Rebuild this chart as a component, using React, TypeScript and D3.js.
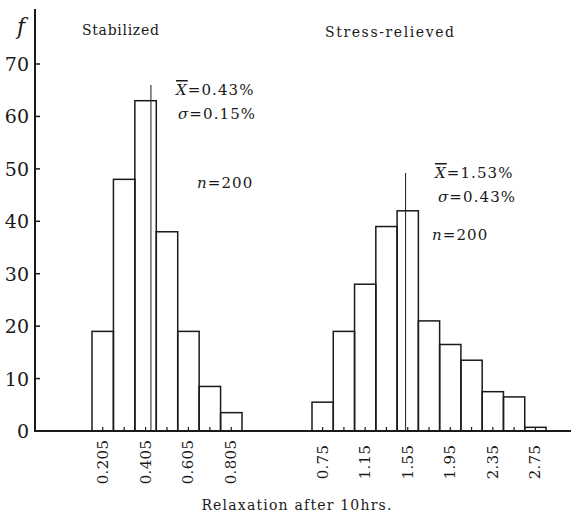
import React from "react";
import * as d3 from "d3";

// ---- data ----
const stabCenters = [0.205, 0.305, 0.405, 0.505, 0.605, 0.705, 0.805];
const stabCounts = [19, 48, 63, 38, 19, 8.5, 3.5];
const stabLabels = [0.205, 0.405, 0.605, 0.805];
const stabMean = 0.43;

const relCenters = [0.75, 0.95, 1.15, 1.35, 1.55, 1.75, 1.95, 2.15, 2.35, 2.55, 2.75];
const relCounts = [5.5, 19, 28, 39, 42, 21, 16.5, 13.5, 7.5, 6.5, 0.7];
const relLabels = [0.75, 1.15, 1.55, 1.95, 2.35, 2.75];
const relMean = 1.53;

const yTicks = [0, 10, 20, 30, 40, 50, 60, 70];

const W = 571;
const H = 518;
const FONT = "DejaVu Serif, Liberation Serif, Noto Serif, serif";
const INK = "#1a1a1a";

export default function App() {
  const y = d3.scaleLinear().domain([0, 70]).range([431, 64]);
  const xS = d3.scaleLinear().domain([0.155, 0.855]).range([92, 242]);
  const xR = d3.scaleLinear().domain([0.65, 2.85]).range([312, 546]);
  const wS = xS(0.1) - xS(0);
  const wR = xR(0.2) - xR(0);
  const axisX = 35;
  const base = y(0);

  const group = (
    centers: number[],
    counts: number[],
    labels: number[],
    x: d3.ScaleLinear<number, number>,
    w: number,
    mean: number,
    meanTop: number,
    fmt: (v: number) => string,
    key: string
  ) => (
    <g key={key}>
      {centers.map((c, i) => (
        <rect
          key={"b" + i}
          x={x(c) - w / 2}
          y={y(counts[i])}
          width={w}
          height={base - y(counts[i])}
          fill="none"
          stroke={INK}
          strokeWidth={1.5}
        />
      ))}
      {centers.map((c, i) => (
        <line key={"t" + i} x1={x(c)} x2={x(c)} y1={base} y2={base - 4} stroke={INK} strokeWidth={1.2} />
      ))}
      <line x1={x(mean)} x2={x(mean)} y1={base} y2={y(meanTop)} stroke={INK} strokeWidth={1} />
      {labels.map((l, i) => (
        <text
          key={"l" + i}
          transform={`translate(${x(l) + 5},${462}) rotate(-90)`}
          textAnchor="middle"
          fontSize={15}
          style={{ fontFamily: FONT }}
          fill={INK}
          letterSpacing={0.3}
        >
          {fmt(l)}
        </text>
      ))}
    </g>
  );

  return (
    <svg
      width={W}
      height={H}
      viewBox={`0 0 ${W} ${H}`}
      style={{ position: "absolute", left: 0, top: 0, background: "#fff", fontFamily: FONT }}
    >
      <rect x={0} y={0} width={W} height={H} fill="#fff" />
      {/* axes */}
      <line x1={axisX} x2={axisX} y1={9} y2={base + 1} stroke={INK} strokeWidth={2} />
      <line x1={axisX - 1} x2={W} y1={base} y2={base} stroke={INK} strokeWidth={2} />
      {yTicks.map((t) => (
        <g key={t}>
          {t > 0 && <line x1={axisX} x2={axisX + 5} y1={y(t)} y2={y(t)} stroke={INK} strokeWidth={1.5} />}
          <text x={29} y={y(t) + 7} textAnchor="end" fontSize={19} style={{ fontFamily: FONT }} fill={INK}>
            {t}
          </text>
        </g>
      ))}
      <text x={17} y={34} fontSize={22} fontStyle="italic" style={{ fontFamily: FONT }} fill={INK}>
        f
      </text>

      {group(stabCenters, stabCounts, stabLabels, xS, wS, stabMean, 66, (v) => v.toFixed(3), "s")}
      {group(relCenters, relCounts, relLabels, xR, wR, relMean, 49.2, (v) => v.toFixed(2), "r")}

      {/* titles */}
      <text x={82} y={35} fontSize={14} style={{ fontFamily: FONT }} fill={INK} letterSpacing={0.7}>
        Stabilized
      </text>
      <text x={325} y={37} fontSize={14} style={{ fontFamily: FONT }} fill={INK} letterSpacing={1.6}>
        Stress-relieved
      </text>

      {/* annotations */}
      <g style={{ fontFamily: FONT }} fontSize={15} fill={INK} letterSpacing={1.1}>
        <text x={176} y={95}>
          <tspan fontStyle="italic" style={{ textDecoration: "overline" }}>X</tspan>
          <tspan>=0.43%</tspan>
        </text>
        <text x={178} y={119}>
          <tspan fontStyle="italic">σ</tspan>
          <tspan>=0.15%</tspan>
        </text>
        <text x={197} y={188}>
          <tspan fontStyle="italic">n</tspan>
          <tspan>=200</tspan>
        </text>
        <text x={435} y={178}>
          <tspan fontStyle="italic" style={{ textDecoration: "overline" }}>X</tspan>
          <tspan>=1.53%</tspan>
        </text>
        <text x={438} y={202}>
          <tspan fontStyle="italic">σ</tspan>
          <tspan>=0.43%</tspan>
        </text>
        <text x={432} y={240}>
          <tspan fontStyle="italic">n</tspan>
          <tspan>=200</tspan>
        </text>
      </g>

      <text x={297} y={510} textAnchor="middle" fontSize={14} style={{ fontFamily: FONT }} fill={INK} letterSpacing={1.2}>
        Relaxation after 10hrs.
      </text>
    </svg>
  );
}
